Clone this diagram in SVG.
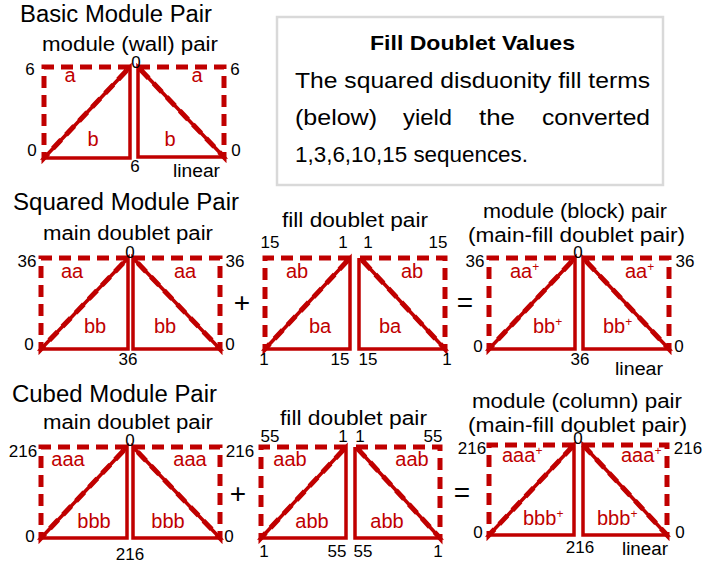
<svg xmlns="http://www.w3.org/2000/svg" width="705" height="567" viewBox="0 0 705 567">
<style>
text{font-family:"Liberation Sans",Arial,sans-serif;fill:#000}
.dash{fill:none;stroke:#C00000;stroke-width:5;stroke-dasharray:12 7}
.solid{fill:none;stroke:#C00000;stroke-width:3.5;stroke-linejoin:miter}
.num{font-size:17px;text-anchor:middle}
.lab{font-size:20px;fill:#C00000;text-anchor:middle}
.labs{font-size:20px;fill:#C00000}
.sup{font-size:12px;fill:#C00000}
.title{font-size:23px}
.sub{font-size:20px}
.op{font-size:28px;text-anchor:middle}
.box{fill:#fff;stroke:#d9d9d9;stroke-width:2.5}
.bt{font-size:22px}
</style>
<rect width="705" height="567" fill="#fff"/>

<!-- Section 1: Basic Module Pair -->
<g id="basic-module-pair">
  <text class="title" x="20" y="22" textLength="192" lengthAdjust="spacingAndGlyphs">Basic Module Pair</text>
  <text class="sub" x="42" y="51" textLength="176" lengthAdjust="spacingAndGlyphs">module (wall) pair</text>
  <path class="solid" d="M44,158 L130,67 V158 Z"/>
  <path class="dash" d="M130,67 H44 V158 L130,67"/>
  <path class="solid" d="M138,67 L224,157 H138 Z"/>
  <path class="dash" d="M138,67 H224 V157 L138,67"/>
  <text class="num" x="30" y="75">6</text>
  <text class="num" x="136" y="68">0</text>
  <text class="num" x="235" y="75">6</text>
  <text class="num" x="32" y="156">0</text>
  <text class="num" x="135" y="172">6</text>
  <text class="num" x="236" y="156">0</text>
  <text x="173" y="177" font-size="18" textLength="47" lengthAdjust="spacingAndGlyphs">linear</text>
  <text class="lab" x="70" y="82">a</text>
  <text class="lab" x="197" y="82">a</text>
  <text class="lab" x="93" y="146">b</text>
  <text class="lab" x="170" y="146">b</text>
</g>

<!-- Fill Doublet Values box -->
<g id="fill-doublet-values">
  <rect class="box" x="277" y="17" width="386" height="168"/>
  <text x="370" y="50" font-size="21" font-weight="bold" textLength="205" lengthAdjust="spacingAndGlyphs">Fill Doublet Values</text>
  <text class="bt" x="295" y="88" textLength="355" lengthAdjust="spacingAndGlyphs">The squared disduonity fill terms</text>
  <text class="bt" x="295" y="125" textLength="82" lengthAdjust="spacingAndGlyphs">(below)</text>
  <text class="bt" x="403" y="125" textLength="49" lengthAdjust="spacingAndGlyphs">yield</text>
  <text class="bt" x="479" y="125" textLength="36" lengthAdjust="spacingAndGlyphs">the</text>
  <text class="bt" x="542" y="125" textLength="108" lengthAdjust="spacingAndGlyphs">converted</text>
  <text class="bt" x="295" y="162" textLength="233" lengthAdjust="spacingAndGlyphs">1,3,6,10,15 sequences.</text>
</g>

<!-- Section 2: Squared Module Pair -->
<g id="squared-main-doublet-pair">
  <text class="title" x="13" y="210" textLength="226" lengthAdjust="spacingAndGlyphs">Squared Module Pair</text>
  <text class="sub" x="43" y="240" textLength="170" lengthAdjust="spacingAndGlyphs">main doublet pair</text>
  <path class="solid" d="M41,349 L128,258 V349 Z"/>
  <path class="dash" d="M128,258 H41 V349 L128,258"/>
  <path class="solid" d="M133,258 L220,349 H133 Z"/>
  <path class="dash" d="M133,258 H220 V349 L133,258"/>
  <text class="num" x="27" y="267">36</text>
  <text class="num" x="130" y="258">0</text>
  <text class="num" x="235" y="267">36</text>
  <text class="num" x="29" y="350">0</text>
  <text class="num" x="128" y="365">36</text>
  <text class="num" x="230" y="350">0</text>
  <text class="lab" x="72" y="278">aa</text>
  <text class="lab" x="185" y="278">aa</text>
  <text class="lab" x="95" y="333">bb</text>
  <text class="lab" x="165" y="333">bb</text>
</g>
<g id="squared-fill-doublet-pair">
  <text class="sub" x="282" y="227" textLength="146" lengthAdjust="spacingAndGlyphs">fill doublet pair</text>
  <path class="solid" d="M265,349 L350,258 V349 Z"/>
  <path class="dash" d="M350,258 H265 V349 L350,258"/>
  <path class="solid" d="M360,258 L445,349 H359 V258"/>
  <path class="dash" d="M360,258 H445 V349 L360,258"/>
  <text class="num" x="270" y="248">15</text>
  <text class="num" x="343" y="248">1</text>
  <text class="num" x="368" y="248">1</text>
  <text class="num" x="438" y="248">15</text>
  <text class="num" x="264" y="365">1</text>
  <text class="num" x="340" y="365">15</text>
  <text class="num" x="368" y="365">15</text>
  <text class="num" x="447" y="365">1</text>
  <text class="lab" x="297" y="278">ab</text>
  <text class="lab" x="412" y="278">ab</text>
  <text class="lab" x="320" y="333">ba</text>
  <text class="lab" x="390" y="333">ba</text>
</g>
<g id="block-module-pair">
  <text class="sub" x="483" y="218" textLength="184" lengthAdjust="spacingAndGlyphs">module (block) pair</text>
  <text class="sub" x="468" y="242" textLength="217" lengthAdjust="spacingAndGlyphs">(main-fill doublet pair)</text>
  <path class="solid" d="M489,349 L575,258 V349 Z"/>
  <path class="dash" d="M575,258 H489 V349 L575,258"/>
  <path class="solid" d="M583,258 L669,349 H583 Z"/>
  <path class="dash" d="M583,258 H669 V349 L583,258"/>
  <text class="num" x="475" y="267">36</text>
  <text class="num" x="578" y="258">0</text>
  <text class="num" x="685" y="267">36</text>
  <text class="num" x="478" y="352">0</text>
  <text class="num" x="580" y="365">36</text>
  <text class="num" x="679" y="352">0</text>
  <text x="615" y="375" font-size="18" textLength="48" lengthAdjust="spacingAndGlyphs">linear</text>
  <text class="labs" x="510" y="278">aa<tspan class="sup" dy="-7">+</tspan></text>
  <text class="labs" x="625" y="278">aa<tspan class="sup" dy="-7">+</tspan></text>
  <text class="labs" x="533" y="333">bb<tspan class="sup" dy="-7">+</tspan></text>
  <text class="labs" x="603" y="333">bb<tspan class="sup" dy="-7">+</tspan></text>
</g>

<!-- Section 3: Cubed Module Pair -->
<g id="cubed-main-doublet-pair">
  <text class="title" x="12" y="402" textLength="205" lengthAdjust="spacingAndGlyphs">Cubed Module Pair</text>
  <text class="sub" x="43" y="429" textLength="170" lengthAdjust="spacingAndGlyphs">main doublet pair</text>
  <path class="solid" d="M41,538 L127,447 V538 Z"/>
  <path class="dash" d="M127,447 H41 V538 L127,447"/>
  <path class="solid" d="M133,447 L220,538 H133 Z"/>
  <path class="dash" d="M133,447 H220 V538 L133,447"/>
  <text class="num" x="23" y="457">216</text>
  <text class="num" x="130" y="446">0</text>
  <text class="num" x="240" y="457">216</text>
  <text class="num" x="30" y="542">0</text>
  <text class="num" x="130" y="560">216</text>
  <text class="num" x="229" y="542">0</text>
  <text class="lab" x="68" y="466">aaa</text>
  <text class="lab" x="190" y="466">aaa</text>
  <text class="lab" x="94" y="528">bbb</text>
  <text class="lab" x="168" y="528">bbb</text>
</g>
<g id="cubed-fill-doublet-pair">
  <text class="sub" x="280" y="425" textLength="147" lengthAdjust="spacingAndGlyphs">fill doublet pair</text>
  <path class="solid" d="M261,538 L346,447 V538 Z"/>
  <path class="dash" d="M346,447 H261 V538 L346,447"/>
  <path class="solid" d="M356,447 L440,538 H355 V447"/>
  <path class="dash" d="M356,447 H440 V538 L356,447"/>
  <text class="num" x="270" y="442">55</text>
  <text class="num" x="343" y="442">1</text>
  <text class="num" x="360" y="442">1</text>
  <text class="num" x="433" y="442">55</text>
  <text class="num" x="264" y="557">1</text>
  <text class="num" x="337" y="557">55</text>
  <text class="num" x="363" y="557">55</text>
  <text class="num" x="438" y="557">1</text>
  <text class="lab" x="290" y="466">aab</text>
  <text class="lab" x="412" y="466">aab</text>
  <text class="lab" x="312" y="528">abb</text>
  <text class="lab" x="387" y="528">abb</text>
</g>
<g id="column-module-pair">
  <text class="sub" x="472" y="408" textLength="210" lengthAdjust="spacingAndGlyphs">module (column) pair</text>
  <text class="sub" x="468" y="432" textLength="219" lengthAdjust="spacingAndGlyphs">(main-fill doublet pair)</text>
  <path class="solid" d="M489,535 L574,445 V535 Z"/>
  <path class="dash" d="M574,445 H489 V535 L574,445"/>
  <path class="solid" d="M583,445 L667,535 H583 Z"/>
  <path class="dash" d="M583,445 H667 V535 L583,445"/>
  <text class="num" x="472" y="454">216</text>
  <text class="num" x="578" y="444">0</text>
  <text class="num" x="688" y="454">216</text>
  <text class="num" x="478" y="538">0</text>
  <text class="num" x="580" y="553">216</text>
  <text class="num" x="680" y="538">0</text>
  <text x="622" y="555" font-size="18" textLength="46" lengthAdjust="spacingAndGlyphs">linear</text>
  <text class="labs" x="502" y="462">aaa<tspan class="sup" dy="-7">+</tspan></text>
  <text class="labs" x="621" y="462">aaa<tspan class="sup" dy="-7">+</tspan></text>
  <text class="labs" x="523" y="525">bbb<tspan class="sup" dy="-7">+</tspan></text>
  <text class="labs" x="597" y="525">bbb<tspan class="sup" dy="-7">+</tspan></text>
</g>

<!-- Operators -->
<g id="operators">
  <text class="op" x="242" y="312">+</text>
  <text class="op" x="465" y="312">=</text>
  <text class="op" x="238" y="503">+</text>
  <text class="op" x="462" y="502">=</text>
</g>
</svg>
